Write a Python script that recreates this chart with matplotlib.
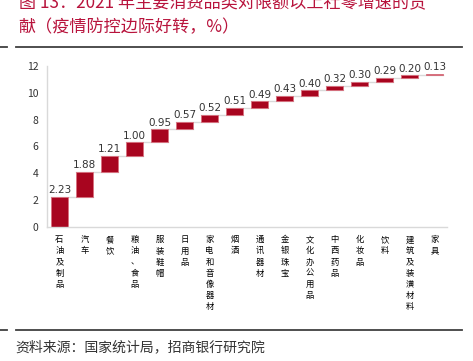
import matplotlib
matplotlib.use('Agg')
import matplotlib.pyplot as plt
from matplotlib.lines import Line2D
import numpy as np

plt.rcParams['font.family'] = ['Noto Sans CJK SC', 'DejaVu Sans']

categories = ['石油及制品', '汽车', '餐饮', '粮油、食品', '服装鞋帽', '日用品', '家电和音像器材',
              '烟酒', '通讯器材', '金银珠宝', '文化办公用品', '中西药品', '化妆品', '饮料',
              '建筑及装潢材料', '家具']
values = [2.23, 1.88, 1.21, 1.00, 0.95, 0.57, 0.52, 0.51, 0.49, 0.43, 0.40, 0.32, 0.30,
          0.29, 0.20, 0.13]
yticks = [0, 2, 4, 6, 8, 10, 12]

bar_color = '#A8051F'
title_color = '#B8133C'

vals = np.array(values)
tops = np.cumsum(vals)
bottoms = tops - vals
x = np.arange(len(vals))

fig = plt.figure(figsize=(4.73, 3.61), dpi=100)
ax = fig.add_axes([47/473, 1-227/361, 400/473, 161/361])

# connector lines
for i in range(len(vals) - 1):
    ax.plot([x[i] - 0.34, x[i + 1] + 0.34], [tops[i], tops[i]], color='#d9d9d9', lw=1.0, zorder=1)

ax.bar(x, vals, bottom=bottoms, width=0.68, color=bar_color, edgecolor='#D9707E', linewidth=0.6, zorder=2)
for xi, t, v in zip(x, tops, vals):
    ax.text(xi, t + 0.12, f'{v:.2f}', ha='center', va='bottom', fontsize=7.5, color='#333333',
            family='DejaVu Sans')

ax.set_xlim(-0.5, 15.5)
ax.set_ylim(0, 12)
ax.set_yticks(yticks)
ax.tick_params(axis='y', length=0, labelsize=7.5, labelcolor='#333333', pad=6)
ax.set_xticks(x)
ax.set_xticklabels(['\n'.join(c) for c in categories], fontsize=6, va='top', linespacing=1.3)
ax.tick_params(axis='x', length=0, pad=6)
for s in ['top', 'right']:
    ax.spines[s].set_visible(False)
for s in ['left', 'bottom']:
    ax.spines[s].set_color('#d9d9d9')
    ax.spines[s].set_linewidth(1.0)

# title (first line clipped at the top, as in the source image)
fig.text(19/473, 1 - 3/361, '图 13：2021 年主要消费品类对限额以上社零增速的贡', fontsize=12.3,
         color=title_color, va='center', ha='left')
fig.text(18/473, 1 - 27/361, '献（疫情防控边际好转，%）', fontsize=12.3,
         color=title_color, va='center', ha='left')

# rules
for yy in [47, 330]:
    yf = 1 - yy/361
    fig.add_artist(Line2D([16/473, 462/473], [yf, yf], color='#404040', lw=1.3))
    fig.add_artist(Line2D([0, 7/473], [yf, yf], color='#404040', lw=1.3))

fig.text(15/473, 1 - 347/361, '资料来源：国家统计局，招商银行研究院', fontsize=10,
         color='#333333', va='center', ha='left')

fig.savefig('out.png', dpi=100)
